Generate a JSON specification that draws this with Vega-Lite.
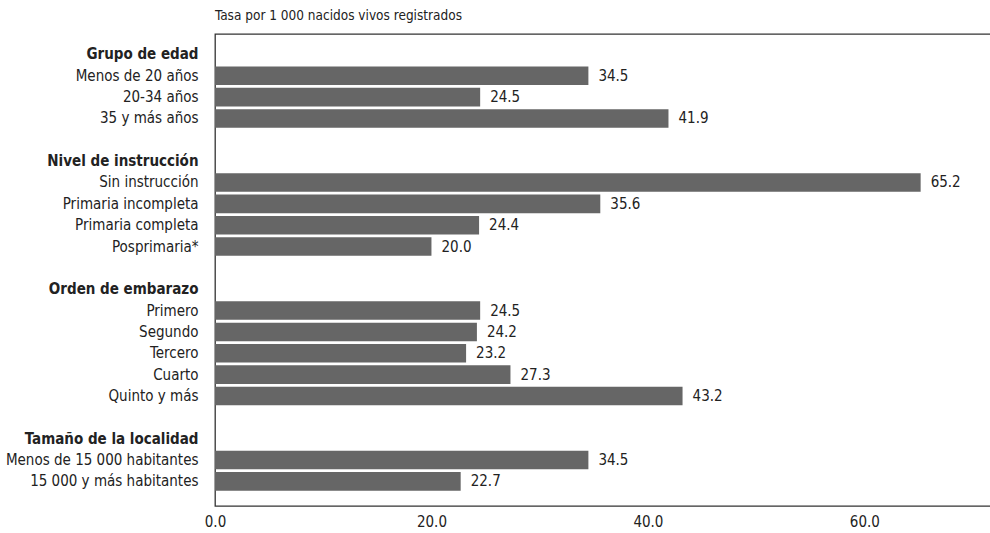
{
  "$schema": "https://vega.github.io/schema/vega-lite/v6.json",
  "autosize": {"type": "none"},
  "padding": {"left": 215, "top": 34, "right": 0, "bottom": 27},
  "width": 776,
  "height": 472,
  "background": "white",
  "title": {
    "text": "Tasa por 1 000 nacidos vivos registrados",
    "anchor": "start",
    "frame": "group",
    "orient": "top",
    "offset": 12,
    "font": "DejaVu Sans Condensed, sans-serif",
    "fontSize": 13.5,
    "fontWeight": "normal",
    "color": "#222222"
  },
  "config": {
    "view": {"stroke": "#333333", "strokeWidth": 1.3},
    "font": "DejaVu Sans Condensed, sans-serif"
  },
  "data": {
    "values": [
      {"etiqueta": "Grupo de edad", "tasa": null},
      {"etiqueta": "Menos de 20 años", "tasa": 34.5},
      {"etiqueta": "20-34 años", "tasa": 24.5},
      {"etiqueta": "35 y más años", "tasa": 41.9},
      {"etiqueta": " ", "tasa": null},
      {"etiqueta": "Nivel de instrucción", "tasa": null},
      {"etiqueta": "Sin instrucción", "tasa": 65.2},
      {"etiqueta": "Primaria incompleta", "tasa": 35.6},
      {"etiqueta": "Primaria completa", "tasa": 24.4},
      {"etiqueta": "Posprimaria*", "tasa": 20.0},
      {"etiqueta": "  ", "tasa": null},
      {"etiqueta": "Orden de embarazo", "tasa": null},
      {"etiqueta": "Primero", "tasa": 24.5},
      {"etiqueta": "Segundo", "tasa": 24.2},
      {"etiqueta": "Tercero", "tasa": 23.2},
      {"etiqueta": "Cuarto", "tasa": 27.3},
      {"etiqueta": "Quinto y más", "tasa": 43.2},
      {"etiqueta": "   ", "tasa": null},
      {"etiqueta": "Tamaño de la localidad", "tasa": null},
      {"etiqueta": "Menos de 15 000 habitantes", "tasa": 34.5},
      {"etiqueta": "15 000 y más habitantes", "tasa": 22.7}
    ]
  },
  "encoding": {
    "y": {
      "field": "etiqueta",
      "type": "nominal",
      "title": null,
      "scale": {
        "domain": ["Grupo de edad", "Menos de 20 años", "20-34 años", "35 y más años", " ", "Nivel de instrucción", "Sin instrucción", "Primaria incompleta", "Primaria completa", "Posprimaria*", "  ", "Orden de embarazo", "Primero", "Segundo", "Tercero", "Cuarto", "Quinto y más", "   ", "Tamaño de la localidad", "Menos de 15 000 habitantes", "15 000 y más habitantes"],
        "paddingInner": 0.13,
        "paddingOuter": 0.62,
        "align": 0.42
      },
      "axis": {
        "domain": false,
        "ticks": false,
        "labelPadding": 17,
        "labelLimit": 300,
        "labelFontSize": 15,
        "labelColor": "#222222",
        "labelFontWeight": {
          "condition": {"test": "indexof(['Grupo de edad','Nivel de instrucción','Orden de embarazo','Tamaño de la localidad'], datum.value) >= 0", "value": "bold"},
          "value": "normal"
        }
      }
    },
    "x": {
      "field": "tasa",
      "type": "quantitative",
      "title": null,
      "scale": {"domain": [0, 71.7], "nice": false},
      "axis": {
        "values": [0, 20, 40, 60],
        "format": ".1f",
        "domain": false,
        "ticks": false,
        "grid": false,
        "labelFlush": false,
        "labelPadding": 8,
        "labelFontSize": 15,
        "labelColor": "#222222"
      }
    }
  },
  "layer": [
    {"mark": {"type": "bar", "color": "#666666"}},
    {
      "mark": {"type": "text", "align": "left", "dx": 10, "fontSize": 15, "color": "#222222"},
      "encoding": {"text": {"field": "tasa", "type": "quantitative", "format": ".1f"}}
    }
  ]
}
